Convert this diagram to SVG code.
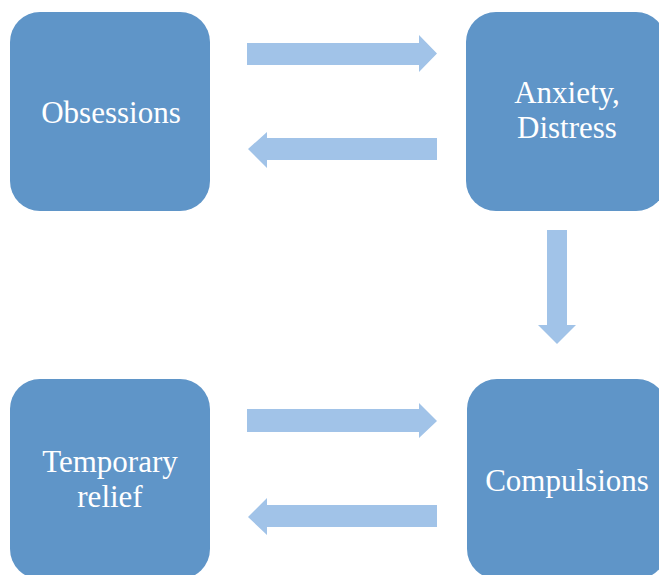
<svg xmlns="http://www.w3.org/2000/svg" width="659" height="575" viewBox="0 0 659 575">
  <style>
    .box { fill: #5f95c8; }
    .label { fill: #ffffff; font-family: "Liberation Serif", "Times New Roman", serif; font-size: 31px; text-anchor: middle; }
    .arrow { fill: #a1c3e8; }
  </style>
  <rect width="659" height="575" fill="#ffffff"/>

  <g id="obsessions">
    <rect class="box" x="10" y="12" width="200" height="199" rx="30" ry="30"/>
    <text class="label" x="111" y="123">Obsessions</text>
  </g>

  <g id="anxiety-distress">
    <rect class="box" x="466" y="12" width="200" height="199" rx="30" ry="30"/>
    <text class="label" x="567" y="103">Anxiety,</text>
    <text class="label" x="567" y="138">Distress</text>
  </g>

  <g id="temporary-relief">
    <rect class="box" x="10" y="379" width="200" height="200" rx="30" ry="30"/>
    <text class="label" x="110" y="472">Temporary</text>
    <text class="label" x="110" y="507">relief</text>
  </g>

  <g id="compulsions">
    <rect class="box" x="467" y="379" width="200" height="200" rx="30" ry="30"/>
    <text class="label" x="567" y="491">Compulsions</text>
  </g>

  <g id="connectors">
    <!-- Obsessions to Anxiety -->
    <polygon class="arrow" points="247,43 419,43 419,35 437,53.5 419,72 419,65 247,65"/>
    <!-- Anxiety back to Obsessions -->
    <polygon class="arrow" points="437,138 267,138 267,132 248,149 267,168 267,160 437,160"/>
    <!-- Anxiety down to Compulsions -->
    <polygon class="arrow" points="547,230 567,230 567,325 576,325 557,344 538,325 547,325"/>
    <!-- Temporary relief to Compulsions -->
    <polygon class="arrow" points="247,409 419,409 419,403 437,421 419,438 419,432 247,432"/>
    <!-- Compulsions back to Temporary relief -->
    <polygon class="arrow" points="437,505 267,505 267,498 248,517 267,535 267,527 437,527"/>
  </g>
</svg>
